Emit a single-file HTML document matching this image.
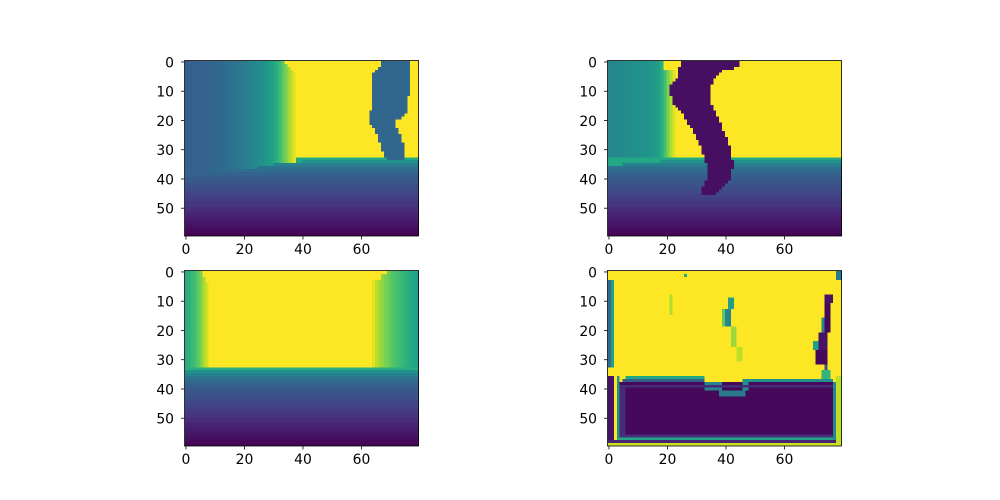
<!DOCTYPE html>
<html><head><meta charset="utf-8">
<style>
html,body{margin:0;padding:0;background:#fff;}
#root{position:relative;width:1000px;height:500px;overflow:hidden;font-family:"DejaVu Sans","Liberation Sans",sans-serif;}
canvas{position:absolute;image-rendering:pixelated;}
svg{position:absolute;left:0;top:0;}
</style></head>
<body>
<div id="root">
<canvas id="c0"></canvas>
<canvas id="c1"></canvas>
<canvas id="c2"></canvas>
<canvas id="c3"></canvas>
<svg id="ax" width="1000" height="500"></svg>
</div>
<script>
// ---- data ----
const nRows = 60, nCols = 80;
const xTicks = [0, 20, 40, 60];
const yTicks = [0, 10, 20, 30, 40, 50];
// floor value profile by row starting at row 33
const floorProfile = [0.6,0.5,0.43,0.38,0.35,0.32,0.3,0.28,0.27,0.25,0.24,0.22,0.21,0.19,0.18,0.16,0.15,0.13,0.12,0.1,0.09,0.07,0.06,0.05,0.03,0.02,0.01];
// top-left wall column profile (cols 0..37)
const wallTL = [0.3,0.3,0.3,0.31,0.31,0.31,0.32,0.32,0.32,0.33,0.33,0.34,0.34,0.35,0.36,0.37,0.38,0.39,0.4,0.41,0.42,0.43,0.45,0.46,0.47,0.49,0.5,0.52,0.54,0.56,0.59,0.63,0.68,0.74,0.8,0.86,0.91,0.96];
const wallEndTL = [34,35,36,37,38];
const horizonTL = [38,38,38,38,38,38,38,38,38,38,37,37,37,37,37,37,37,37,37,37,37,37,37,37,37,36,36,36,36,36,35,35,35,35,35,35,35,35,35,35];
const figTLL = [67,67,66,65,64,64,64,64,64,64,64,64,64,64,64,64,64,63,63,63,63,63,64,65,65,66,66,66,67,67,67,68,68,69,69,69,69];
const figTLR = [76,76,76,76,76,76,76,76,76,76,76,76,75,75,75,75,75,75,74,73,71,71,71,72,72,73,73,73,74,74,74,74,74,74,73,73,73];
// top-right
const wallTR = [0.46,0.46,0.47,0.47,0.47,0.48,0.48,0.48,0.49,0.49,0.5,0.5,0.51,0.51,0.52,0.53,0.55,0.58,0.63,0.7,0.8,0.88,0.95];
const horizonTR = [36,36,36,36,36,35,35,35,35,35,35,35,35,35,35,35,35,35,34,34,34,34,34,34];
const figTRL = [25,25,24,24,24,24,23,22,21,21,21,21,22,22,22,23,24,25,26,26,27,27,28,29,29,30,30,31,31,32,32,32,33,33,33,34,34,34,34,34,34,33,33,32,32,32];
const figTRR = [44,44,42,38,37,36,35,35,34,34,34,34,34,34,34,35,35,36,36,37,37,38,38,38,39,39,40,40,40,41,41,41,41,41,42,42,42,41,41,41,41,40,39,38,37,36];
// bottom-left
const wallBLLeft = [0.62,0.64,0.67,0.7,0.74,0.8,0.87,0.93];
const wallBLRight = [0.95,0.9,0.86,0.83,0.8,0.77,0.74,0.72,0.7,0.68,0.66,0.64,0.62,0.6,0.58,0.57];
// bottom-right rectangles [r0,r1,c0,c1,value]
const brRects = [
 [0,59,0,79,1.0],
 [3,32,0,0,0.35],[3,32,1,1,0.55],
 [36,59,0,1,0.05],[36,58,3,3,0.5],
 [36,36,6,32,0.6],[37,37,5,32,0.3],[38,57,4,76,0.02],[38,40,33,38,0.45],[41,42,38,46,0.4],[38,40,46,47,0.5],[37,37,46,76,0.5],
 [39,56,4,5,0.12],[39,39,6,76,0.12],[56,56,4,76,0.14],[57,57,3,77,0.6],[58,58,0,79,0.1],[59,59,0,79,0.92],
 [38,57,77,77,0.45],[36,58,78,79,0.9],[0,2,78,79,0.4],
 [9,12,41,42,0.55],[13,18,40,41,0.45],[13,18,39,39,0.75],[19,25,42,43,0.85],[26,30,44,45,0.9],
 [8,10,74,76,0.05],[11,20,74,75,0.02],[16,21,73,73,0.45],[21,27,72,74,0.05],[27,31,71,74,0.02],[24,26,70,71,0.55],[32,33,74,74,0.25],[34,36,73,75,0.65],
 [1,1,26,26,0.6],[8,14,21,21,0.88]
];
// ---- colormap ----
const vir = ['#440154','#482475','#414487','#355f8d','#2a788e','#21918c','#22a884','#44bf70','#7ad151','#bddf26','#fde725'].map(h=>[parseInt(h.slice(1,3),16),parseInt(h.slice(3,5),16),parseInt(h.slice(5,7),16)]);
function cmap(v){v=Math.max(0,Math.min(1,v));const f=v*10,i=Math.min(9,Math.floor(f)),t=f-i;const a=vir[i],b=vir[i+1];return 'rgb('+a.map((x,k)=>Math.round(x+(b[k]-x)*t)).join(',')+')';}
function floorVal(r){return floorProfile[Math.min(floorProfile.length-1,Math.max(0,r-33))];}
function valTL(r,c){
  const h = c<horizonTL.length?horizonTL[c]:34;
  if(r>=h) return floorVal(r);
  if(r<figTLL.length && c>=figTLL[r] && c<=figTLR[r]) return 0.33;
  const we = r<wallEndTL.length?wallEndTL[r]:wallTL.length;
  if(r>=33 && c>=we) return 0.6;
  if(c<we && c<wallTL.length) return wallTL[c];
  return 1;
}
function valTR(r,c){
  if(r<figTRL.length && c>=figTRL[r] && c<=figTRR[r]) return 0.04;
  const h = c<horizonTR.length?horizonTR[c]:34;
  if(r>=h) return floorVal(r);
  if(r>=33) return 0.6;
  const we = r<3?19:wallTR.length;
  if(c<we && c<wallTR.length) return wallTR[c];
  return 1;
}
function valBL(r,c){
  if(r>=34) return floorVal(r);
  if(r===33) return 0.62;
  const lw = r<2?6:(r<4?7:wallBLLeft.length);
  if(c<lw) return wallBLLeft[c];
  const rs = r<1?69:(r<3?67:64);
  if(c>=rs) return wallBLRight[Math.min(wallBLRight.length-1,c-64)];
  return 1;
}
function valBR(r,c){
  let v=1;
  for(const q of brRects){if(r>=q[0]&&r<=q[1]&&c>=q[2]&&c<=q[3]) v=q[4];}
  return v;
}
// ---- axes ----
const axesPos = [[184.5,60.5],[607.5,60.5],[184.5,270.5],[607.5,270.5]];
const W=234, H=175.5;
const fns=[valTL,valTR,valBL,valBR];
const svg=document.getElementById('ax');
const NS='http://www.w3.org/2000/svg';
function el(t,a){const e=document.createElementNS(NS,t);for(const k in a)e.setAttribute(k,a[k]);svg.appendChild(e);return e;}
axesPos.forEach((p,i)=>{
  const x0=p[0],y0=p[1];
  const xS=c=>x0+(c+0.5)*W/nCols, yS=r=>y0+(r+0.5)*H/nRows;
  const cv=document.getElementById('c'+i);
  cv.width=nCols;cv.height=nRows;
  cv.style.left=x0+'px';cv.style.top=y0+'px';cv.style.width=W+'px';cv.style.height=H+'px';
  const ctx=cv.getContext('2d');
  for(let r=0;r<nRows;r++)for(let c=0;c<nCols;c++){
    ctx.fillStyle=cmap(fns[i](r,c));
    const cx=Math.round((xS(c)-x0)/(W/nCols)-0.5), cy=Math.round((yS(r)-y0)/(H/nRows)-0.5);
    ctx.fillRect(cx,cy,1,1);
  }
  const fr=el('rect',{x:x0,y:y0,width:W,height:H,fill:'none',stroke:'#000','stroke-width':0.8});
  
  
  xTicks.forEach(t=>{
    const x=xS(t);
    const tk=el('line',{x1:x,x2:x,y1:y0+H,y2:y0+H+3.5,stroke:'#000','stroke-width':0.8});
    
    
    const tx=el('text',{x:x,y:y0+H+18,'font-size':13.9,'text-anchor':'middle',fill:'#000'});
    tx.textContent=t;
    
    
  });
  yTicks.forEach(t=>{
    const y=yS(t);
    const tk=el('line',{x1:x0-3.5,x2:x0,y1:y,y2:y,stroke:'#000','stroke-width':0.8});
    
    
    const tx=el('text',{x:x0-10.5,y:y+5.5,'font-size':13.9,'text-anchor':'end',fill:'#000'});
    tx.textContent=t;
    
    
  });
});
</script>
</body></html>
